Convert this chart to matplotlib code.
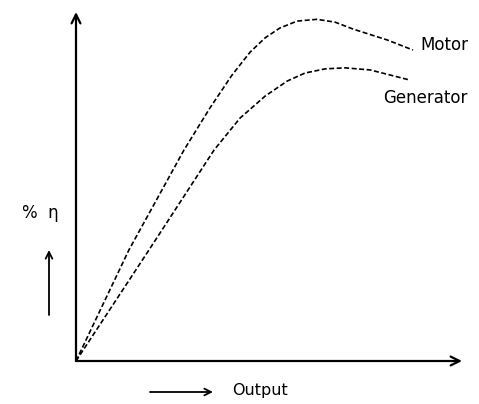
import numpy as np
import matplotlib
matplotlib.use('Agg')
import matplotlib.pyplot as plt

# curves (output in arbitrary units, efficiency in %)
motor_x = [0, 1.37, 2.80, 3.47, 4.04, 4.51, 4.90, 5.28, 5.73, 6.24, 6.71,
           7.18, 8.06, 8.73]
motor_eff = [0, 31.8, 60.5, 72.5, 81.9, 88.5, 92.6, 95.4, 97.4, 97.9, 97.1,
             95.1, 92.0, 89.1]

gen_x = [0, 1.89, 3.58, 4.25, 4.90, 5.47, 5.93, 6.45, 6.97, 7.62, 8.65]
gen_eff = [0, 31.8, 60.5, 69.6, 75.9, 80.2, 82.5, 83.7, 84.0, 83.4, 80.5]

W, H = 479, 404
fig = plt.figure(figsize=(W / 100, H / 100), dpi=100)
ax = fig.add_axes([76 / W, (H - 361) / H, (462 - 76) / W, (361 - 12) / H])
ax.set_xlim(0, 10)
ax.set_ylim(0, 100)
ax.axis('off')

# sketchy dashed curves
ax.plot(motor_x, motor_eff, color='black', lw=1.2, ls=(0, (3, 1.5)))
ax.plot(gen_x, gen_eff, color='black', lw=1.2, ls=(0, (3, 1.5)))

# hand-drawn style axes with open arrow heads
arrow = dict(arrowstyle='->', color='black', lw=1.6, mutation_scale=16,
             shrinkA=0, shrinkB=0)
ax.annotate('', xy=(10, 0), xytext=(0, 0), arrowprops=arrow, annotation_clip=False)
ax.annotate('', xy=(0, 100), xytext=(0, 0), arrowprops=arrow, annotation_clip=False)

# labels
fig.text(420 / W, 1 - 45 / H, 'Motor', fontsize=12, va='center', ha='left')
fig.text(383 / W, 1 - 98 / H, 'Generator', fontsize=12, va='center', ha='left')
fig.text(232 / W, 1 - 390 / H, 'Output', fontsize=11.5, va='center', ha='left')
fig.text(22 / W, 1 - 213 / H, '%  η', fontsize=12, va='center', ha='left')

small = dict(arrowstyle='->', color='black', lw=1.3, mutation_scale=12,
             shrinkA=0, shrinkB=0)
ax.annotate('', xy=(213 / W, 1 - 392 / H), xytext=(150 / W, 1 - 392 / H),
            xycoords='figure fraction', textcoords='figure fraction',
            arrowprops=small, annotation_clip=False)
ax.annotate('', xy=(49 / W, 1 - 250 / H), xytext=(49 / W, 1 - 315 / H),
            xycoords='figure fraction', textcoords='figure fraction',
            arrowprops=small, annotation_clip=False)

fig.savefig('out.png', dpi=100)
